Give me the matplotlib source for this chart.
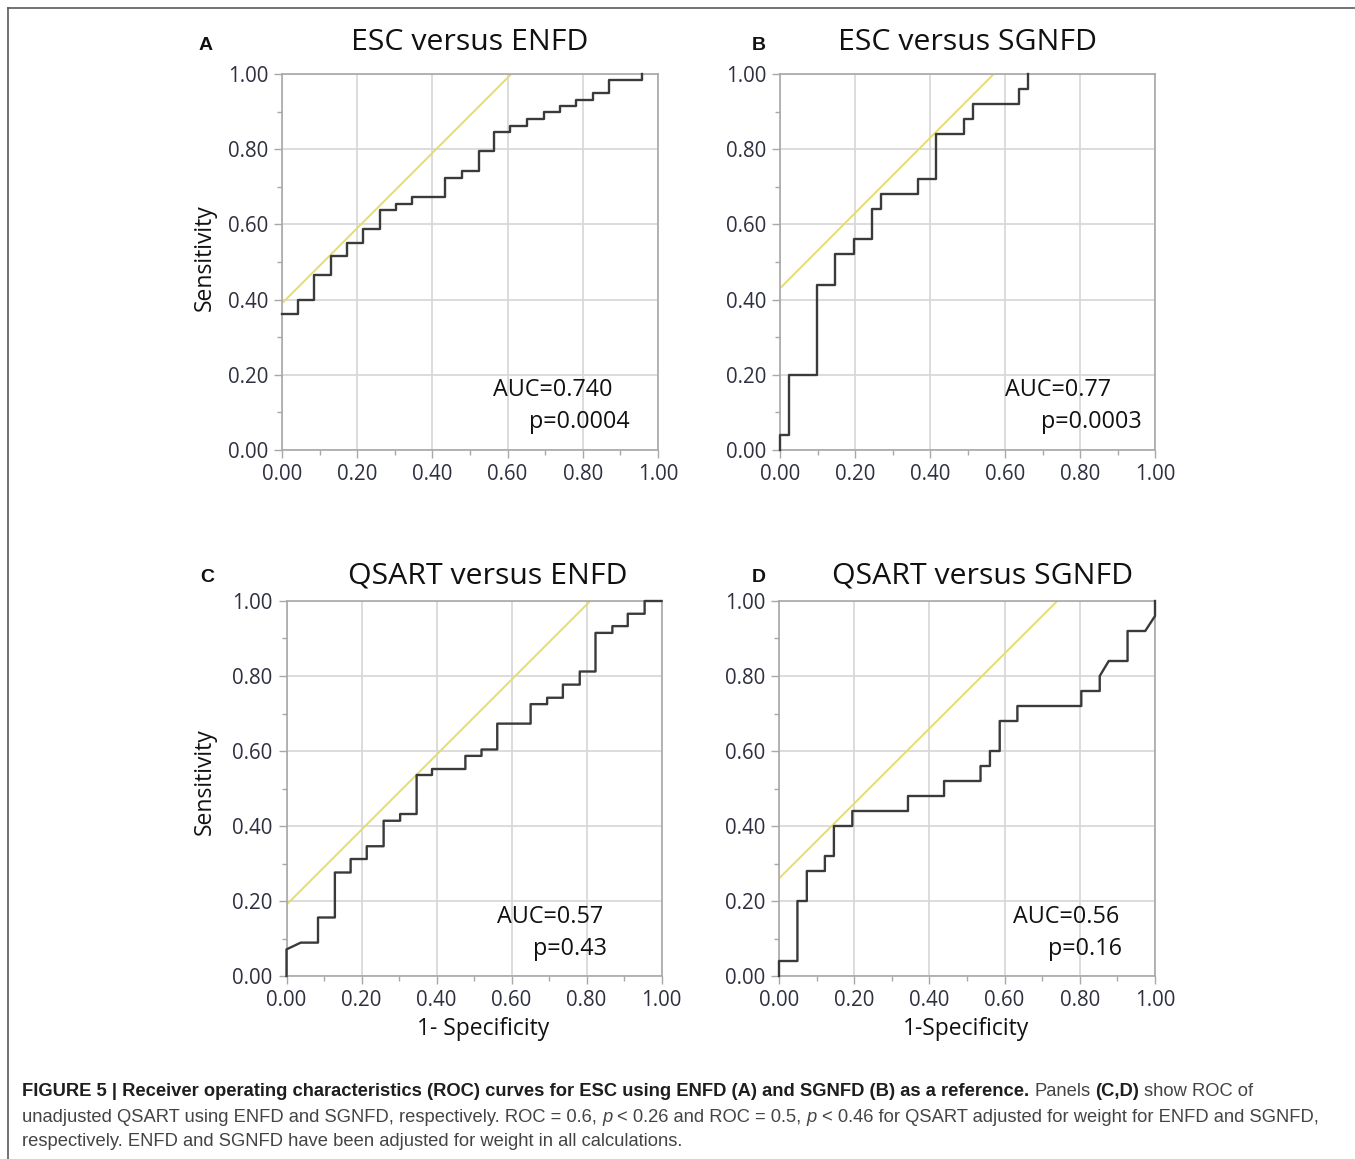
import matplotlib.pyplot as plt
import numpy as np
from matplotlib.lines import Line2D


# figure size in pixels (saved at dpi 100)
W, H = 1355, 1159

titles = ["ESC versus ENFD", "ESC versus SGNFD", "QSART versus ENFD", "QSART versus SGNFD"]
letters = ["A", "B", "C", "D"]
auc_labels = ["AUC=0.740", "AUC=0.77", "AUC=0.57", "AUC=0.56"]
p_labels = ["p=0.0004", "p=0.0003", "p=0.43", "p=0.16"]
# yellow tangent line: sensitivity = (1 - specificity) + intercept
tangent_intercepts = [0.39, 0.43, 0.19, 0.26]

# ROC vertices
fpr_a = [0, 0.042, 0.042, 0.086, 0.086, 0.129, 0.129, 0.173, 0.173, 0.216, 0.216,
         0.260, 0.260, 0.304, 0.304, 0.347, 0.347, 0.434, 0.434, 0.478, 0.478,
         0.523, 0.523, 0.564, 0.564, 0.606, 0.606, 0.652, 0.652, 0.696, 0.696,
         0.740, 0.740, 0.782, 0.782, 0.826, 0.826, 0.870, 0.870, 0.957, 0.957]
tpr_a = [0.361, 0.361, 0.398, 0.398, 0.465, 0.465, 0.516, 0.516, 0.551, 0.551, 0.587,
         0.587, 0.638, 0.638, 0.654, 0.654, 0.674, 0.674, 0.723, 0.723, 0.742,
         0.742, 0.794, 0.794, 0.845, 0.845, 0.863, 0.863, 0.879, 0.879, 0.898,
         0.898, 0.914, 0.914, 0.932, 0.932, 0.949, 0.949, 0.983, 0.983, 1.0]

fpr_b = [0, 0, 0.024, 0.024, 0.098, 0.098, 0.147, 0.147, 0.197, 0.197, 0.245, 0.245,
         0.270, 0.270, 0.368, 0.368, 0.416, 0.416, 0.490, 0.490, 0.515, 0.515,
         0.636, 0.636, 0.661, 0.661]
tpr_b = [0, 0.04, 0.04, 0.20, 0.20, 0.44, 0.44, 0.52, 0.52, 0.56, 0.56, 0.64,
         0.64, 0.68, 0.68, 0.72, 0.72, 0.84, 0.84, 0.88, 0.88, 0.92,
         0.92, 0.96, 0.96, 1.0]

fpr_c = [0, 0, 0.038, 0.084, 0.084, 0.129, 0.129, 0.171, 0.171, 0.214, 0.214, 0.259,
         0.259, 0.303, 0.303, 0.347, 0.347, 0.388, 0.388, 0.477, 0.477, 0.520,
         0.520, 0.562, 0.562, 0.651, 0.651, 0.695, 0.695, 0.737, 0.737, 0.782,
         0.782, 0.824, 0.824, 0.869, 0.869, 0.910, 0.910, 0.955, 0.955, 1.0]
tpr_c = [0, 0.071, 0.089, 0.089, 0.156, 0.156, 0.276, 0.276, 0.312, 0.312, 0.346, 0.346,
         0.414, 0.414, 0.432, 0.432, 0.536, 0.536, 0.552, 0.552, 0.587, 0.587,
         0.604, 0.604, 0.673, 0.673, 0.725, 0.725, 0.742, 0.742, 0.777, 0.777,
         0.812, 0.812, 0.915, 0.915, 0.933, 0.933, 0.966, 0.966, 1.0, 1.0]

fpr_d = [0, 0, 0.049, 0.049, 0.074, 0.074, 0.122, 0.122, 0.146, 0.146, 0.195, 0.195,
         0.343, 0.343, 0.439, 0.439, 0.536, 0.536, 0.561, 0.561, 0.587, 0.587,
         0.634, 0.634, 0.804, 0.804, 0.853, 0.853, 0.877, 0.927, 0.927, 0.974,
         1.0, 1.0]
tpr_d = [0, 0.04, 0.04, 0.20, 0.20, 0.28, 0.28, 0.32, 0.32, 0.40, 0.40, 0.44,
         0.44, 0.48, 0.48, 0.52, 0.52, 0.56, 0.56, 0.60, 0.60, 0.68,
         0.68, 0.72, 0.72, 0.76, 0.76, 0.80, 0.84, 0.84, 0.92, 0.92,
         0.96, 1.0]

curves = [(fpr_a, tpr_a), (fpr_b, tpr_b), (fpr_c, tpr_c), (fpr_d, tpr_d)]

ticks = [0.0, 0.2, 0.4, 0.6, 0.8, 1.0]
tick_labels = ["0.00", "0.20", "0.40", "0.60", "0.80", "1.00"]

# panel boxes in pixels: left, top, right, bottom
boxes = [(282, 74, 658, 450), (780, 74, 1155, 450),
         (286.5, 601, 661.5, 976), (779, 601, 1155, 976)]
title_xy = [(470, 42), (967, 42), (488, 576), (983, 576)]
letter_xy = [(206, 45), (759, 45), (207, 577), (759, 577)]
auc_xy = [(493, 390), (1005, 390), (497, 917), (1013, 917)]
p_xy = [(529, 422), (1041, 422), (533, 949), (1048, 949)]

font = "Open Sans"
tick_color = "#2e3040"
grid_color = "#d6d6d6"
spine_color = "#a8a8a8"


def fx(x):
    return x / W


def fy(y):
    return 1 - y / H


fig = plt.figure(figsize=(W / 100, H / 100), dpi=100)

for i in range(4):
    l, t, r, b = boxes[i]
    ax = fig.add_axes([fx(l), fy(b), (r - l) / W, (b - t) / H])
    ax.set_xlim(0, 1)
    ax.set_ylim(0, 1)
    ax.set_xticks(ticks)
    ax.set_yticks(ticks)
    ax.set_xticklabels(tick_labels, family=font, fontsize=14.8, color=tick_color)
    ax.set_yticklabels(tick_labels, family=font, fontsize=14.8, color=tick_color)
    ax.set_xticks(np.arange(0.1, 1.0, 0.2), minor=True)
    ax.set_yticks(np.arange(0.1, 1.0, 0.2), minor=True)
    ax.tick_params(which="major", length=6, width=1, color=spine_color,
                   direction="out", pad=4)
    ax.tick_params(which="minor", length=3.5, width=1, color=spine_color,
                   direction="out")
    ax.grid(True, which="major", color=grid_color, lw=1.2)
    ax.set_axisbelow(True)
    for s in ax.spines.values():
        s.set_color(spine_color)
        s.set_linewidth(1.2)

    # tangent line
    ax.axline((0, tangent_intercepts[i]), slope=1, color="#e5dc72", lw=1.4)

    fpr, tpr = curves[i]
    ax.plot(fpr, tpr, color="#3a3a3a", lw=1.7, clip_on=False, zorder=3)

    fig.text(fx(title_xy[i][0]), fy(title_xy[i][1]), titles[i], family=font,
             fontsize=21.8, ha="center", va="center", color="#111111")
    fig.text(fx(letter_xy[i][0]), fy(letter_xy[i][1]), letters[i],
             family="Liberation Sans", weight="bold", fontsize=14,
             ha="center", va="center", color="#111111")
    fig.text(fx(auc_xy[i][0]), fy(auc_xy[i][1]), auc_labels[i], family=font,
             fontsize=16.8, ha="left", va="center", color="#111111")
    fig.text(fx(p_xy[i][0]), fy(p_xy[i][1]), p_labels[i], family=font,
             fontsize=16.8, ha="left", va="center", color="#111111")

# axis labels
for y in (258, 782):
    fig.text(fx(205), fy(y), "Sensitivity", family=font, fontsize=16.5,
             rotation=90, ha="center", va="center", color="#111111")
fig.text(fx(483), fy(1029), "1- Specificity", family=font, fontsize=16.5,
         ha="center", va="center", color="#111111")
fig.text(fx(966), fy(1029), "1-Specificity", family=font, fontsize=16.5,
         ha="center", va="center", color="#111111")

# frame lines
fig.add_artist(Line2D([fx(8), 1], [fy(8), fy(8)], transform=fig.transFigure,
                      color="#5a5a5a", lw=1.2))
fig.add_artist(Line2D([fx(8), fx(8)], [0, fy(8)], transform=fig.transFigure,
                      color="#5a5a5a", lw=1.2))

# caption
cap_font = ["Liberation Sans Narrow", "Liberation Sans"]
cap_size = 13.25
renderer = fig.canvas.get_renderer()


def text_width(s, weight="normal", style="normal"):
    t = fig.text(0, 0, s, family=cap_font, fontsize=cap_size, weight=weight, style=style)
    w = t.get_window_extent(renderer).width
    t.remove()
    return w


space = text_width("x x") - text_width("xx")


def caption_line(y, parts):
    x = 22
    for k, (s, weight, style) in enumerate(parts):
        if k > 0:
            x += space
        c = "#1e1e1e" if weight == "bold" else "#444444"
        t = fig.text(fx(x), fy(y), s, family=cap_font, fontsize=cap_size,
                     weight=weight, style=style, va="center", color=c)
        x += t.get_window_extent(renderer).width


caption_line(1092, [
    ("FIGURE 5 | Receiver operating characteristics (ROC) curves for ESC using ENFD (A) "
     "and SGNFD (B) as a reference.", "bold", "normal"),
    ("Panels", "normal", "normal"),
    ("(C,D)", "bold", "normal"),
    ("show ROC of", "normal", "normal"),
])
caption_line(1117, [
    ("unadjusted QSART using ENFD and SGNFD, respectively. ROC = 0.6,", "normal", "normal"),
    ("p", "normal", "italic"),
    ("< 0.26 and ROC = 0.5,", "normal", "normal"),
    ("p", "normal", "italic"),
    ("< 0.46 for QSART adjusted for weight for ENFD and SGNFD,", "normal", "normal"),
])
caption_line(1141, [
    ("respectively. ENFD and SGNFD have been adjusted for weight in all calculations.",
     "normal", "normal"),
])

fig.savefig("out.png", dpi=100)
